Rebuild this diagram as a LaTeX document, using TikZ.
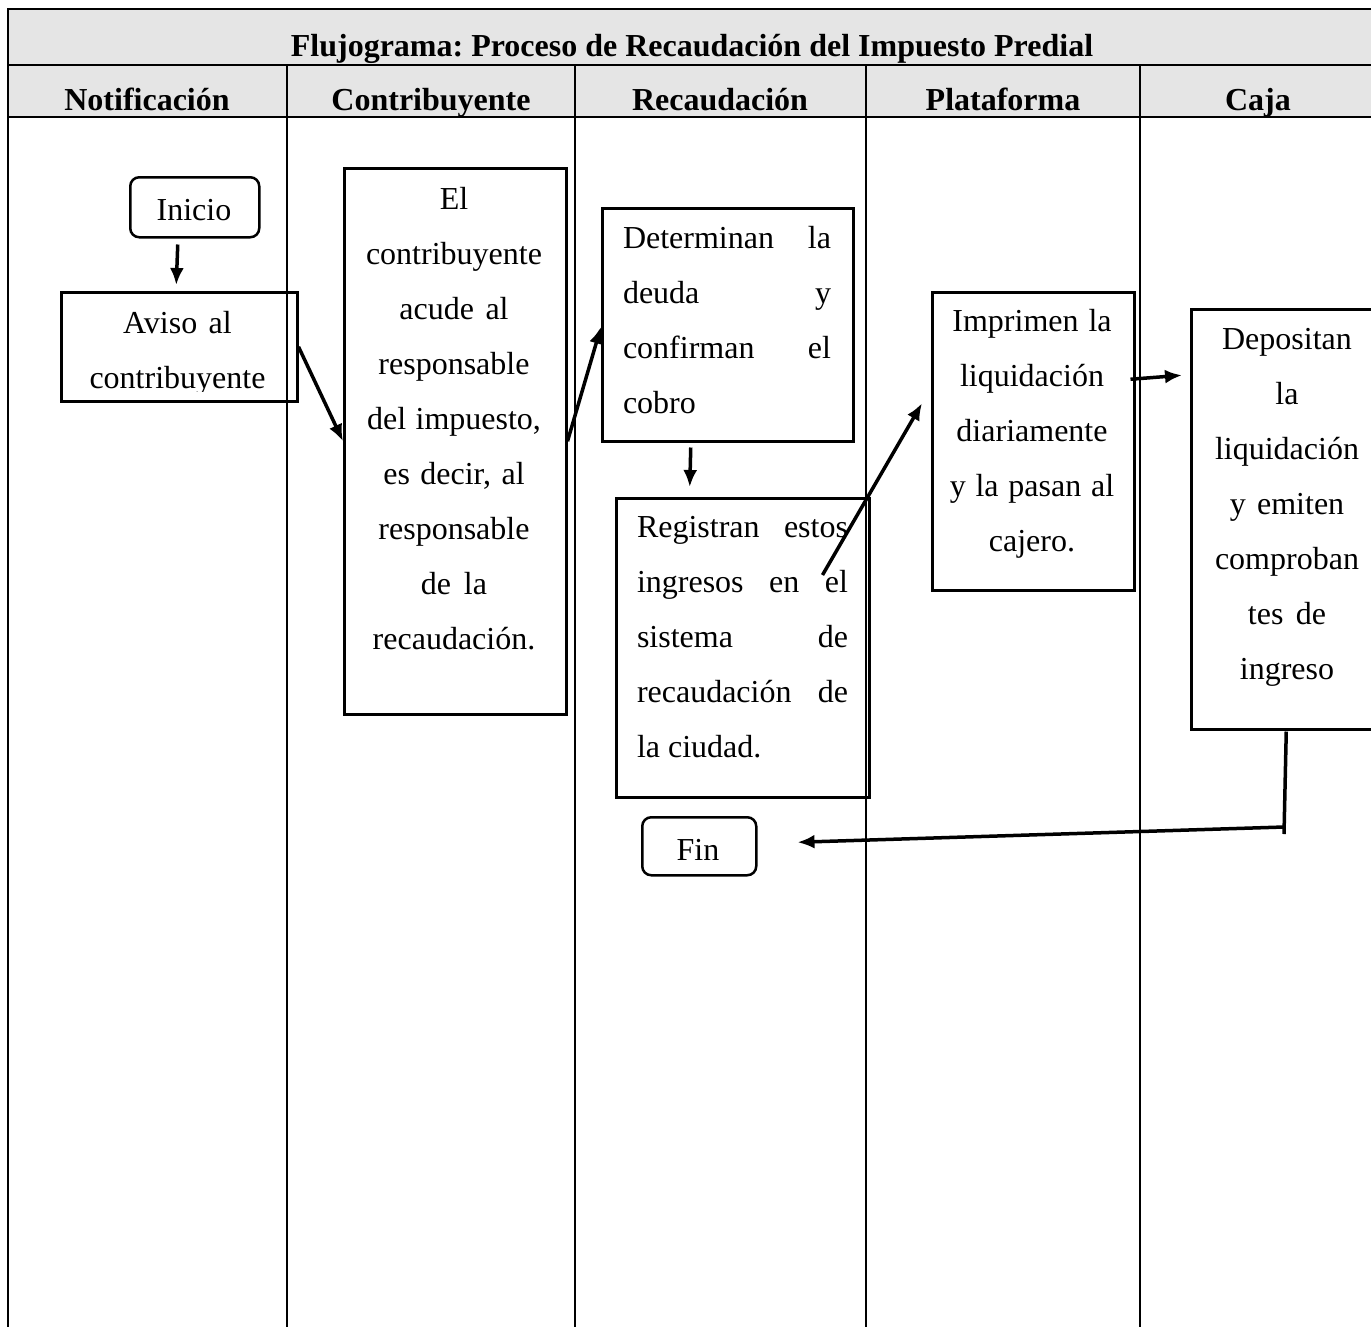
\documentclass[tikz,border=0pt]{standalone}
\usepackage{fontspec}
\setmainfont{Liberation Serif}
\usepackage{tikz}
\usetikzlibrary{calc, arrows.meta, positioning}

\frenchspacing
\newcommand{\jl}[2]{\makebox[#1][s]{#2}}

\tikzset{
  lane/.style={line width=1.8pt},
  box/.style={draw, line width=2.5pt, anchor=north west, inner sep=0pt},
  term/.style={draw, line width=2.5pt, rounded corners=9pt, anchor=north west, inner sep=0pt},
  txt/.style={anchor=base, inner sep=0pt, align=center, text width=220pt, font=\fontsize{32}{55}\selectfont,
    execute at begin node={\spaceskip=0pt\xspaceskip=0pt}},
  head/.style={anchor=base, inner sep=0pt, font=\fontsize{32}{38}\selectfont\bfseries},
  flow/.style={-{Latex[length=17pt,width=14pt]}, line width=3.5pt},
}

\begin{document}
\begin{tikzpicture}[x=1pt, y=-1pt]
  \useasboundingbox (0,0) rectangle (1371,1326);
  \clip (0,0) rectangle (1371,1326);
  \fill[white] (0,0) rectangle (1371,1326);

  % cabecera de la tabla
  \fill[gray!20] (8,9) rectangle (1380,117);
  \draw[lane] (1380,9) -- (8,9) -- (8,1330);
  \draw[lane] (8,65) -- (1380,65);
  \draw[line width=2.5pt] (8,117) -- (1380,117);
  \foreach \x in {287,575,866,1140}
    \draw[lane] (\x,65) -- (\x,1330);

  \node[head] (titulo) at (692,56) {Flujograma: Proceso de Recaudación del Impuesto Predial};
  \foreach \name/\x/\lbl in {notif/147/Notificación, contri/431/Contribuyente, recau/720/Recaudación, plata/1003/Plataforma, caja/1258/Caja}
    \node[head] (h\name) at (\x,110) {\lbl};

  % cajas
  \node[term, minimum width=129pt, minimum height=60pt] (inicio) at (129,176) {};
  \node[txt] (tinicio) at (194,220) {Inicio};

  \node[box, minimum width=236pt, minimum height=109pt] (aviso) at (60,291) {};
  \begin{scope}
    \clip (aviso.north west) rectangle ([yshift=11pt]aviso.south east);
    \node[txt] (taviso) at (177.5,333) {Aviso al\\contribuyente};
  \end{scope}

  \node[box, minimum width=222pt, minimum height=546pt] (contrib) at (343,167) {};
  \node[txt] (tcontrib) at (454,209) {El\\contribuyente\\acude al\\responsable\\del impuesto,\\es decir, al\\responsable\\de la\\recaudación.};

  \node[box, minimum width=251pt, minimum height=233pt] (determ) at (601,207) {};
  \node[txt, text width=208pt, align=left] (tdeterm) at (727,248) {\jl{208pt}{Determinan la}\\\jl{208pt}{deuda y}\\\jl{208pt}{confirman el}\\cobro};

  \node[box, minimum width=253pt, minimum height=299pt] (regist) at (615,497) {};
  \node[txt, text width=211pt, align=left] (tregist) at (742.5,537) {\jl{211pt}{Registran estos}\\\jl{211pt}{ingresos en el}\\\jl{211pt}{sistema de}\\\jl{211pt}{recaudación de}\\la ciudad.};

  \node[box, minimum width=202pt, minimum height=298pt] (imprim) at (931,291) {};
  \node[txt] (timprim) at (1032,331) {Imprimen la\\liquidación\\diariamente\\y la pasan al\\cajero.};

  \node[box, minimum width=190pt, minimum height=420pt] (deposit) at (1190,308) {};
  \node[txt] (tdeposit) at (1287,349) {Depositan\\la\\liquidación\\y emiten\\comproban\\tes de\\ingreso};

  \node[term, minimum width=114pt, minimum height=58pt] (fin) at (641,816) {};
  \node[txt] (tfin) at (698,860) {Fin};

  % flechas
  \draw[flow] ([xshift=-17pt,yshift=-6pt]inicio.south) -- ([xshift=-3pt,yshift=6pt]aviso.north);
  \draw[flow] (aviso.east) -- (contrib.west);
  \draw[flow] (contrib.east) -- ([yshift=-2pt]determ.west);
  \draw[flow] ([xshift=-37pt,yshift=-5pt]determ.south) -- ([xshift=-53pt,yshift=10pt]regist.north);
  \draw[flow] ([xshift=-48pt,yshift=-78pt]regist.north east) -- ([xshift=-9pt,yshift=38pt]imprim.west);
  \draw[flow] ([xshift=-5pt,yshift=62pt]imprim.east) -- ([xshift=-8pt,yshift=144pt]deposit.west);
  \coordinate (vuelta) at (1284,827);
  \draw[line width=3.5pt] ([yshift=-1pt]deposit.south) -- ([yshift=-7pt]vuelta);
  \draw[flow] (vuelta) -- ([xshift=40pt,yshift=4pt]fin.east);
\end{tikzpicture}
\end{document}
